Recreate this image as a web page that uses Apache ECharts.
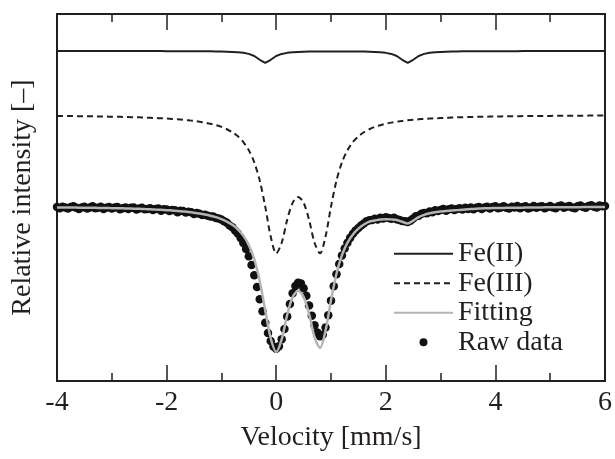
<!DOCTYPE html>
<html>
<head>
<meta charset="utf-8">
<script src="https://cdn.jsdelivr.net/npm/echarts@6/dist/echarts.min.js"></script>
<style>
  html, body { margin: 0; padding: 0; background: #fff; }
  #chart { width: 615px; height: 459px; }
</style>
</head>
<body>
<div id="chart"></div>
<script>
// velocity grid of the fitted / component curves [mm/s]
var lineVelocity = [
  -4.0, -3.9, -3.8, -3.7, -3.6, -3.5, -3.4, -3.3, -3.2, -3.1,
  -3.0, -2.9, -2.8, -2.7, -2.6, -2.5, -2.4, -2.3, -2.2, -2.1,
  -2.0, -1.9, -1.8, -1.7, -1.6, -1.5, -1.4, -1.3, -1.2, -1.1,
  -1.0, -0.9, -0.8, -0.7, -0.6, -0.5, -0.4, -0.3, -0.2, -0.1,
  0.0, 0.1, 0.2, 0.3, 0.4, 0.5, 0.6, 0.7, 0.8, 0.9,
  1.0, 1.1, 1.2, 1.3, 1.4, 1.5, 1.6, 1.7, 1.8, 1.9,
  2.0, 2.1, 2.2, 2.3, 2.4, 2.5, 2.6, 2.7, 2.8, 2.9,
  3.0, 3.1, 3.2, 3.3, 3.4, 3.5, 3.6, 3.7, 3.8, 3.9,
  4.0, 4.1, 4.2, 4.3, 4.4, 4.5, 4.6, 4.7, 4.8, 4.9,
  5.0, 5.1, 5.2, 5.3, 5.4, 5.5, 5.6, 5.7, 5.8, 5.9,
  6.0
]

// Fe(II) doublet component (offset upwards)
var fe2 = [
  89.91, 89.91, 89.91, 89.91, 89.91, 89.91, 89.91, 89.91, 89.91, 89.91,
  89.91, 89.91, 89.91, 89.91, 89.91, 89.91, 89.90, 89.90, 89.89, 89.89,
  89.88, 89.88, 89.88, 89.87, 89.87, 89.86, 89.85, 89.84, 89.82, 89.80,
  89.77, 89.73, 89.67, 89.58, 89.42, 89.13, 88.57, 87.53, 86.71, 87.53,
  88.57, 89.13, 89.41, 89.57, 89.66, 89.71, 89.75, 89.78, 89.79, 89.80,
  89.81, 89.81, 89.81, 89.80, 89.79, 89.78, 89.75, 89.71, 89.66, 89.57,
  89.41, 89.12, 88.57, 87.53, 86.71, 87.53, 88.57, 89.13, 89.42, 89.59,
  89.67, 89.73, 89.77, 89.80, 89.82, 89.84, 89.85, 89.86, 89.87, 89.87,
  89.88, 89.88, 89.88, 89.88, 89.88, 89.89, 89.89, 89.89, 89.89, 89.89,
  89.89, 89.90, 89.90, 89.90, 89.90, 89.90, 89.90, 89.90, 89.90, 89.90,
  89.90
]

// Fe(III) doublet component (offset upwards)
var fe3 = [
  72.22, 72.21, 72.19, 72.18, 72.16, 72.14, 72.12, 72.10, 72.08, 72.05,
  72.02, 71.99, 71.96, 71.92, 71.88, 71.84, 71.79, 71.73, 71.66, 71.59,
  71.51, 71.42, 71.31, 71.18, 71.03, 70.86, 70.65, 70.40, 70.09, 69.71,
  69.23, 68.60, 67.78, 66.66, 65.11, 62.87, 59.56, 54.60, 47.51, 39.35,
  34.79, 37.66, 43.90, 48.55, 50.14, 48.55, 43.90, 37.66, 34.79, 39.35,
  47.51, 54.60, 59.56, 62.87, 65.11, 66.66, 67.78, 68.60, 69.23, 69.71,
  70.09, 70.40, 70.65, 70.86, 71.03, 71.18, 71.31, 71.42, 71.51, 71.59,
  71.66, 71.73, 71.79, 71.84, 71.88, 71.92, 71.96, 71.99, 72.02, 72.05,
  72.08, 72.10, 72.12, 72.14, 72.16, 72.18, 72.19, 72.21, 72.22, 72.23,
  72.24, 72.26, 72.27, 72.28, 72.28, 72.29, 72.30, 72.31, 72.32, 72.32,
  72.33
]

// total fit
var fitting = [
  47.30, 47.29, 47.27, 47.26, 47.24, 47.22, 47.20, 47.18, 47.16, 47.13,
  47.10, 47.07, 47.04, 47.00, 46.96, 46.91, 46.85, 46.79, 46.72, 46.65,
  46.55, 46.46, 46.35, 46.21, 46.06, 45.87, 45.65, 45.38, 45.05, 44.65,
  44.13, 43.45, 42.56, 41.34, 39.61, 37.07, 33.18, 27.19, 19.22, 11.64,
  7.92, 11.35, 17.98, 22.85, 24.56, 22.98, 18.28, 11.93, 9.02, 13.68,
  22.01, 29.24, 34.30, 37.67, 39.94, 41.51, 42.64, 43.43, 43.73, 44.03,
  44.08, 44.04, 43.89, 43.38, 42.91, 43.70, 44.66, 45.28, 45.69, 45.97,
  46.17, 46.34, 46.43, 46.56, 46.68, 46.79, 46.89, 46.98, 47.07, 47.10,
  47.13, 47.15, 47.18, 47.20, 47.22, 47.24, 47.26, 47.27, 47.29, 47.31,
  47.32, 47.33, 47.34, 47.35, 47.36, 47.37, 47.38, 47.39, 47.40, 47.40,
  47.41
]

// measured spectrum channels [mm/s]
var rawVelocity = [
  -4.00, -3.95, -3.90, -3.85, -3.80, -3.75, -3.70, -3.65, -3.60, -3.55,
  -3.50, -3.45, -3.40, -3.35, -3.30, -3.25, -3.20, -3.15, -3.10, -3.05,
  -3.00, -2.95, -2.90, -2.85, -2.80, -2.75, -2.70, -2.65, -2.60, -2.55,
  -2.50, -2.45, -2.40, -2.35, -2.30, -2.25, -2.20, -2.15, -2.10, -2.05,
  -2.00, -1.95, -1.90, -1.85, -1.80, -1.75, -1.70, -1.65, -1.60, -1.55,
  -1.50, -1.45, -1.40, -1.35, -1.30, -1.25, -1.20, -1.15, -1.10, -1.05,
  -1.00, -0.95, -0.90, -0.85, -0.80, -0.75, -0.70, -0.65, -0.60, -0.55,
  -0.50, -0.45, -0.40, -0.35, -0.30, -0.25, -0.20, -0.15, -0.10, -0.05,
  0.00, 0.05, 0.10, 0.15, 0.20, 0.25, 0.30, 0.35, 0.40, 0.45,
  0.50, 0.55, 0.60, 0.65, 0.70, 0.75, 0.80, 0.85, 0.90, 0.95,
  1.00, 1.05, 1.10, 1.15, 1.20, 1.25, 1.30, 1.35, 1.40, 1.45,
  1.50, 1.55, 1.60, 1.65, 1.70, 1.75, 1.80, 1.85, 1.90, 1.95,
  2.00, 2.05, 2.10, 2.15, 2.20, 2.25, 2.30, 2.35, 2.40, 2.45,
  2.50, 2.55, 2.60, 2.65, 2.70, 2.75, 2.80, 2.85, 2.90, 2.95,
  3.00, 3.05, 3.10, 3.15, 3.20, 3.25, 3.30, 3.35, 3.40, 3.45,
  3.50, 3.55, 3.60, 3.65, 3.70, 3.75, 3.80, 3.85, 3.90, 3.95,
  4.00, 4.05, 4.10, 4.15, 4.20, 4.25, 4.30, 4.35, 4.40, 4.45,
  4.50, 4.55, 4.60, 4.65, 4.70, 4.75, 4.80, 4.85, 4.90, 4.95,
  5.00, 5.05, 5.10, 5.15, 5.20, 5.25, 5.30, 5.35, 5.40, 5.45,
  5.50, 5.55, 5.60, 5.65, 5.70, 5.75, 5.80, 5.85, 5.90, 5.95,
  6.00
]

var rawData = [
  47.4, 47.1, 47.5, 47.3, 47.0, 47.4, 47.6, 47.2, 46.9, 47.3,
  47.5, 47.0, 47.3, 47.6, 47.1, 47.2, 47.5, 46.9, 47.2, 47.4,
  47.0, 47.3, 47.4, 46.8, 47.1, 47.3, 46.9, 47.2, 47.3, 46.7,
  47.0, 47.2, 46.8, 46.9, 47.1, 46.6, 46.9, 47.0, 46.4, 46.8,
  46.7, 46.3, 46.6, 46.5, 46.0, 46.4, 46.3, 45.9, 46.1, 46.0,
  45.5, 45.8, 45.6, 45.2, 45.3, 45.0, 44.8, 44.8, 44.4, 44.3,
  44.0, 43.5, 43.1, 42.4, 41.9, 41.0, 40.2, 39.0, 37.6, 36.0,
  34.0, 31.6, 28.8, 25.6, 22.3, 19.0, 15.9, 13.1, 10.9, 9.4,
  8.8, 9.5, 11.4, 14.2, 17.6, 21.0, 23.9, 25.9, 26.8, 26.6,
  25.3, 23.2, 20.6, 17.8, 15.2, 13.2, 12.2, 12.6, 14.6, 17.9,
  21.9, 25.8, 29.1, 31.9, 34.2, 36.1, 37.7, 39.0, 40.1, 41.0,
  41.7, 42.4, 42.9, 43.5, 43.8, 43.9, 44.2, 44.0, 44.5, 44.3,
  44.6, 44.4, 44.2, 44.5, 44.1, 43.9, 43.6, 43.5, 43.3, 43.7,
  44.3, 44.9, 45.0, 45.6, 45.8, 45.7, 46.2, 46.0, 46.5, 46.3,
  46.6, 46.9, 46.4, 46.8, 47.0, 46.6, 46.9, 47.1, 46.7, 47.2,
  46.9, 47.3, 46.8, 47.2, 47.4, 46.9, 47.3, 47.5, 47.0, 47.4,
  47.6, 47.1, 47.3, 47.6, 47.2, 47.0, 47.5, 47.3, 47.7, 47.1,
  47.4, 47.6, 47.0, 47.3, 47.7, 47.2, 47.5, 47.6, 47.1, 47.4,
  47.7, 47.3, 47.1, 47.6, 47.8, 47.2, 47.5, 47.7, 47.3, 47.1,
  47.6, 47.8, 47.4, 47.2, 47.7, 47.9, 47.5, 47.3, 47.8, 47.6,
  47.7
]

var legendNames = ['Fe(II)', 'Fe(III)', 'Fitting', 'Raw data']

var ink = '#231f20'
var serif = '"Liberation Serif", "Times New Roman", serif'
var textSize = 28

function pairs (xs, ys) {
  return xs.map(function (x, i) { return [x, ys[i]] })
}

var tickAxis = function (pos, showLabels) {
  return {
    type: 'value',
    position: pos,
    min: -4,
    max: 6,
    interval: 2,
    axisLine: { show: false },
    axisTick: { show: true, inside: true, length: 16, lineStyle: { color: ink, width: 1.5 } },
    minorTick: { show: true, splitNumber: 2, length: 8, lineStyle: { color: ink, width: 1.5 } },
    splitLine: { show: false },
    axisLabel: { show: showLabels, fontSize: textSize, color: ink, fontFamily: serif, margin: 8 }
  }
}

var bottomAxis = tickAxis('bottom', true)
bottomAxis.name = 'Velocity [mm/s]'
bottomAxis.nameLocation = 'middle'
bottomAxis.nameGap = 43
bottomAxis.nameTextStyle = { fontSize: textSize, color: ink, fontFamily: serif }

var chart = echarts.init(document.getElementById('chart'), null, { renderer: 'canvas' })

chart.setOption({
  animation: false,
  backgroundColor: '#fff',
  grid: {
    left: 57, right: 7, top: 14, bottom: 78,
    show: true, borderColor: ink, borderWidth: 2, backgroundColor: 'transparent'
  },
  legend: {
    // lines only for the fitted curves, no marker dot
    data: [
      { name: legendNames[0], itemStyle: { opacity: 0 } },
      { name: legendNames[1], itemStyle: { opacity: 0 } },
      { name: legendNames[2], itemStyle: { opacity: 0 } },
      legendNames[3]
    ],
    orient: 'vertical',
    left: 393,
    top: 239,
    padding: 0,
    itemWidth: 59,
    itemHeight: 8,
    itemGap: 0,
    selectedMode: false,
    textStyle: { fontSize: textSize, lineHeight: 29.5, color: ink, fontFamily: serif }
  },
  xAxis: [bottomAxis, tickAxis('top', false)],
  yAxis: {
    type: 'value',
    min: 0,
    max: 100,
    axisLine: { show: false },
    axisTick: { show: false },
    axisLabel: { show: false },
    splitLine: { show: false },
    name: 'Relative intensity [–]',
    nameLocation: 'middle',
    nameGap: 20,
    nameTextStyle: { fontSize: textSize, color: ink, fontFamily: serif }
  },
  series: [
    {
      name: 'Fe(II)',
      type: 'line',
      data: pairs(lineVelocity, fe2),
      symbol: 'none',
      lineStyle: { color: ink, width: 2 },
      itemStyle: { color: ink }
    },
    {
      name: 'Fe(III)',
      type: 'line',
      data: pairs(lineVelocity, fe3),
      symbol: 'none',
      smooth: 0.3,
      lineStyle: { color: ink, width: 2, type: [6, 4] },
      itemStyle: { color: ink }
    },
    {
      name: 'Raw data',
      type: 'scatter',
      data: pairs(rawVelocity, rawData),
      symbol: 'circle',
      symbolSize: 8.5,
      clip: false,
      itemStyle: { color: '#111', opacity: 1 }
    },
    {
      name: 'Fitting',
      type: 'line',
      data: pairs(lineVelocity, fitting),
      symbol: 'none',
      smooth: 0.3,
      lineStyle: { color: '#b4b4b4', width: 2.5 },
      itemStyle: { color: '#b4b4b4' }
    }
  ]
})
</script>
</body>
</html>
